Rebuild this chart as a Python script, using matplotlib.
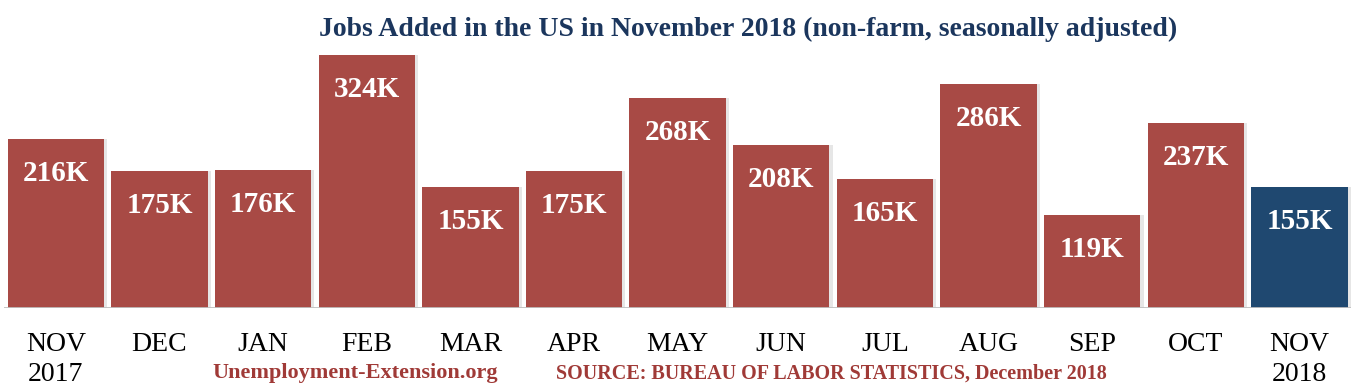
import matplotlib.pyplot as plt
import numpy as np

months = ["NOV\n2017", "DEC", "JAN", "FEB", "MAR", "APR", "MAY",
          "JUN", "JUL", "AUG", "SEP", "OCT", "NOV\n2018"]
jobs = [216, 175, 176, 324, 155, 175, 268, 208, 165, 286, 119, 237, 155]
labels = ["216K", "175K", "176K", "324K", "155K", "175K", "268K",
          "208K", "165K", "286K", "119K", "237K", "155K"]

red = "#A84A45"
blue = "#1F4870"
colors = [red] * 12 + [blue]

plt.rcParams['font.family'] = ['Liberation Serif', 'DejaVu Serif']

fig = plt.figure(figsize=(13.54, 3.9), dpi=100)
ax = fig.add_axes([0.003, 0.2103, 0.995, 0.6615])

x = np.arange(len(jobs))
# faint shadow behind each bar
ax.bar(x + 0.03, jobs, width=0.93, color="#e6e6e6", zorder=1)
ax.bar(x, jobs, width=0.93, color=colors, zorder=2)

for xi, v, lab in zip(x, jobs, labels):
    ax.text(xi, v - 44, lab, ha="center", va="center", color="white",
            fontsize=21, fontweight="bold", zorder=3)

ax.set_xlim(-0.5, 12.5)
ax.set_ylim(0, 330)
ax.axhline(0, color="#c0c0c0", linewidth=2, zorder=4)

ax.set_xticks(x)
ax.set_xticklabels(months, fontsize=20, color="black", linespacing=1.3)
ax.tick_params(axis="x", length=0, pad=17)
ax.set_yticks([])
for s in ax.spines.values():
    s.set_visible(False)

fig.text(0.5524, 0.925, "Jobs Added in the US in November 2018 (non-farm, seasonally adjusted)",
         ha="center", va="center", fontsize=20, fontweight="bold", color="#1B365D")
fig.text(0.262, 0.043, "Unemployment-Extension.org", ha="center", va="center",
         fontsize=16, fontweight="bold", color="#A03A37")
fig.text(0.6137, 0.043, "SOURCE: BUREAU OF LABOR STATISTICS, December 2018",
         ha="center", va="center", fontsize=14.5, fontweight="bold", color="#A03A37")

fig.savefig("out.png", dpi=100)
